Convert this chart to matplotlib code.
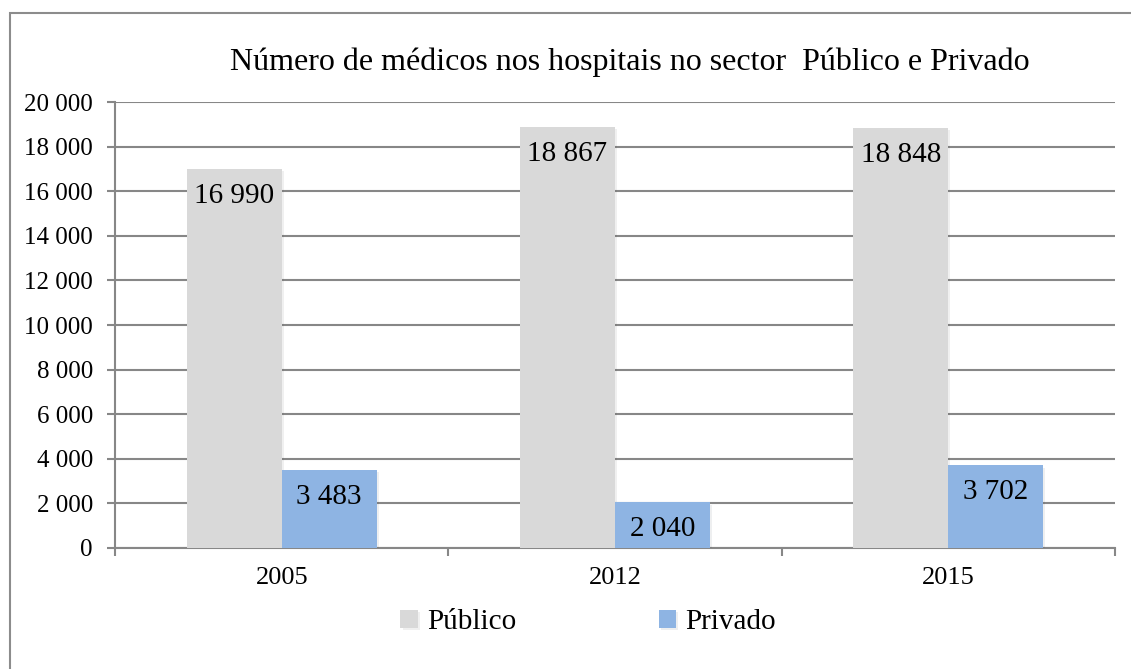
import matplotlib
matplotlib.use("Agg")
import matplotlib.pyplot as plt
import numpy as np
from matplotlib.ticker import FuncFormatter, MultipleLocator
from matplotlib.patches import Rectangle
import matplotlib.patheffects as pe

# data
years = ["2005", "2012", "2015"]
publico = [16990, 18867, 18848]
privado = [3483, 2040, 3702]

plt.rcParams["font.family"] = ["Liberation Serif", "DejaVu Serif"]

GRID = "#878787"
C_PUB = "#d9d9d9"
C_PRIV = "#8eb4e3"


def spaced(v, _pos=None):
    return f"{int(v):,}".replace(",", " ")


fig = plt.figure(figsize=(11.31, 6.69), dpi=100)
ax = fig.add_axes([0.1017, 0.1809, 0.8842, 0.6666])

x = np.arange(len(years))
w = 0.285
shadow = [pe.SimplePatchShadow(offset=(1.5, -1.5), alpha=0.08), pe.Normal()]
b1 = ax.bar(x - w / 2, publico, w, color=C_PUB, label="Público",
            zorder=3, path_effects=shadow)
b2 = ax.bar(x + w / 2, privado, w, color=C_PRIV, label="Privado",
            zorder=3, path_effects=shadow)

for bars, vals in ((b1, publico), (b2, privado)):
    for r, v in zip(bars, vals):
        ax.annotate(spaced(v), (r.get_x() + r.get_width() / 2, v),
                    xytext=(0, -27), textcoords="offset pixels",
                    ha="center", va="center", fontsize=21, zorder=4)

ax.set_xlim(-0.5, 2.5)
ax.set_ylim(0, 20000)
ax.yaxis.set_major_locator(MultipleLocator(2000))
ax.yaxis.set_major_formatter(FuncFormatter(spaced))
ax.grid(axis="y", color=GRID, linewidth=1.5, zorder=0)
ax.set_axisbelow(True)

for s in ("top", "right"):
    ax.spines[s].set_visible(False)
for s in ("left", "bottom"):
    ax.spines[s].set_color(GRID)
    ax.spines[s].set_linewidth(1.5)

ax.set_xticks(x)
ax.set_xticklabels(years)
ax.set_xticks(np.arange(-0.5, 3.0, 1.0), minor=True)
ax.tick_params(axis="x", which="major", length=0, pad=14, labelsize=19)
ax.tick_params(axis="x", which="minor", length=6, width=1.5, color=GRID)
ax.tick_params(axis="y", length=6, width=1.5, color=GRID, labelsize=18, pad=10)

fig.text(0.557, 0.907, "Número de médicos nos hospitais no sector  Público e Privado",
         ha="center", va="center", fontsize=23)

leg = fig.legend(handles=[b1, b2], labels=["Público", "Privado"],
                 loc="center", bbox_to_anchor=(0.52, 0.07), ncol=2,
                 frameon=False, fontsize=21, handlelength=0.6, handleheight=0.6,
                 handletextpad=0.3, columnspacing=4.9)

# outer chart border (left and top edges visible in the reference)
fig.patches.append(Rectangle((10 / 1131, -0.05), 1.2, (669 - 13) / 669 + 0.05,
                             transform=fig.transFigure, fill=False,
                             edgecolor="#8c8c8c", linewidth=1.5))

fig.savefig("out.png", dpi=100, facecolor="white")
